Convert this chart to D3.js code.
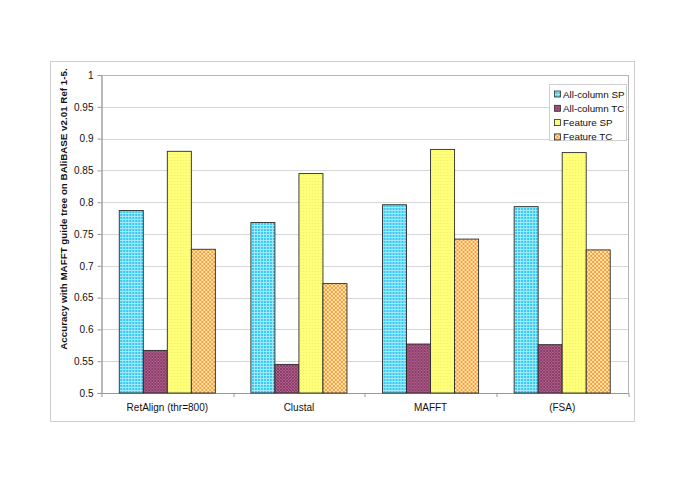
<!DOCTYPE html>
<html>
<head>
<meta charset="utf-8">
<script src="https://cdn.jsdelivr.net/npm/d3@7"></script>
<style>
  body { margin: 0; background: #fff; }
  svg { font-family: "Liberation Sans", Arial, sans-serif; }
</style>
</head>
<body>
<div class="barchart"></div>
<script>
let categories = ["RetAlign (thr=800)", "Clustal", "MAFFT", "(FSA)"];
let seriesNames = ["All-column SP", "All-column TC", "Feature SP", "Feature TC"];
let allColumnSP = [0.787, 0.768, 0.796, 0.793];
let allColumnTC = [0.567, 0.545, 0.577, 0.576];
let featureSP = [0.880, 0.845, 0.883, 0.878];
let featureTC = [0.726, 0.672, 0.742, 0.725];
let yTicks = [0.5, 0.55, 0.6, 0.65, 0.7, 0.75, 0.8, 0.85, 0.9, 0.95, 1];

let series = [allColumnSP, allColumnTC, featureSP, featureTC];
let patternIds = ["pCyan", "pPurple", "pYellow", "pOrange"];

let W = 685, H = 484;
let margin = {top: 75, right: 57, bottom: 91, left: 101.5};
let width = W - margin.left - margin.right,
    height = H - margin.top - margin.bottom;

let root = d3.select(".barchart").append("svg")
    .attr("width", W)
    .attr("height", H);

// patterns for the bar fills
let defs = root.append("defs");

let pc = defs.append("pattern").attr("id", "pCyan")
    .attr("patternUnits", "userSpaceOnUse").attr("width", 3).attr("height", 3);
pc.append("rect").attr("width", 3).attr("height", 3).attr("fill", "#35c8f0");
pc.append("rect").attr("width", 3).attr("height", 1).attr("fill", "#a2eafb");
pc.append("rect").attr("width", 1).attr("height", 3).attr("fill", "#a2eafb");

let pp = defs.append("pattern").attr("id", "pPurple")
    .attr("patternUnits", "userSpaceOnUse").attr("width", 3).attr("height", 3);
pp.append("rect").attr("width", 3).attr("height", 3).attr("fill", "#b2608c");
pp.append("path").attr("d", "M0,3 L3,0 M0,0 L3,3").attr("stroke", "#7f3560").attr("stroke-width", 0.8);

let py = defs.append("pattern").attr("id", "pYellow")
    .attr("patternUnits", "userSpaceOnUse").attr("width", 3).attr("height", 3);
py.append("rect").attr("width", 3).attr("height", 3).attr("fill", "#ffff78");
py.append("rect").attr("x", 1).attr("y", 1).attr("width", 1).attr("height", 1).attr("fill", "#ecec70");

let po = defs.append("pattern").attr("id", "pOrange")
    .attr("patternUnits", "userSpaceOnUse").attr("width", 4).attr("height", 4);
po.append("rect").attr("width", 4).attr("height", 4).attr("fill", "#ffe3b0");
po.append("rect").attr("width", 2).attr("height", 2).attr("fill", "#f6a23c");
po.append("rect").attr("x", 2).attr("y", 2).attr("width", 2).attr("height", 2).attr("fill", "#f6a23c");

// outer frame
root.append("rect")
    .attr("x", 50.5).attr("y", 61.5)
    .attr("width", 584).attr("height", 360)
    .attr("fill", "none")
    .attr("stroke", "#cfcfcf");

let svg = root.append("g")
    .attr("transform", "translate(" + margin.left + "," + margin.top + ")");

let yScale = d3.scaleLinear()
    .range([height, 0])
    .domain([0.5, 1]);

let x0 = d3.scaleBand()
    .range([0, width])
    .domain(categories)
    .paddingInner(0.27)
    .paddingOuter(0.135);

let x1 = d3.scaleBand()
    .range([0, x0.bandwidth()])
    .domain(d3.range(series.length));

// grid lines
svg.append("g")
    .selectAll("line")
    .data(yTicks.slice(1, -1))
    .enter().append("line")
    .attr("x1", 0).attr("x2", width)
    .attr("y1", d => Math.round(yScale(d)) + 0.5)
    .attr("y2", d => Math.round(yScale(d)) + 0.5)
    .attr("stroke", "#d6d6d6");

// plot border
svg.append("rect")
    .attr("x", 0.5).attr("y", 0.5)
    .attr("width", width).attr("height", height)
    .attr("fill", "none")
    .attr("stroke", "#b5b5b5");

// y axis
let yAxis = svg.append("g")
    .call(d3.axisLeft(yScale).tickValues(yTicks).tickSize(4).tickPadding(4)
        .tickFormat(d => d3.format("")(+d.toFixed(2))));
yAxis.select(".domain").attr("stroke", "#999");
yAxis.selectAll(".tick line").attr("stroke", "#999");
yAxis.selectAll("text").attr("font-size", 10).attr("fill", "#111");

// x axis: ticks at group boundaries
let xAxis = svg.append("g")
    .attr("transform", `translate(0, ${height})`);
xAxis.append("line")
    .attr("x1", 0).attr("x2", width)
    .attr("y1", 0.5).attr("y2", 0.5)
    .attr("stroke", "#999");
xAxis.selectAll(".sep")
    .data(d3.range(categories.length + 1))
    .enter().append("line")
    .attr("x1", i => Math.round(i * width / categories.length) + 0.5)
    .attr("x2", i => Math.round(i * width / categories.length) + 0.5)
    .attr("y1", 0).attr("y2", 4)
    .attr("stroke", "#999");
xAxis.selectAll(".lab")
    .data(categories)
    .enter().append("text")
    .attr("x", d => x0(d) + x0.bandwidth() / 2)
    .attr("y", 18)
    .attr("text-anchor", "middle")
    .attr("font-size", 10)
    .attr("fill", "#111")
    .text(d => d);

// bars
let groups = svg.selectAll(".grp")
    .data(categories)
    .enter().append("g")
    .attr("transform", d => "translate(" + x0(d) + ",0)");

groups.selectAll("rect")
    .data((d, i) => series.map((s, j) => ({j: j, val: s[i]})))
    .enter().append("rect")
    .attr("x", d => x1(d.j))
    .attr("y", d => yScale(d.val))
    .attr("width", x1.bandwidth())
    .attr("height", d => height - yScale(d.val))
    .attr("fill", d => "url(#" + patternIds[d.j] + ")")
    .attr("stroke", "#2b2b2b")
    .attr("stroke-width", 0.9);

// y label
root.append("text")
    .attr("transform", "translate(66.5,209) rotate(-90)")
    .attr("text-anchor", "middle")
    .attr("font-size", 9.8)
    .attr("font-weight", "bold")
    .attr("fill", "#111")
    .text("Accuracy with MAFFT guide tree on BAliBASE v2.01 Ref 1-5.");

// legend
let legend = root.append("g").attr("transform", "translate(549.5,84.5)");
legend.append("rect")
    .attr("width", 77).attr("height", 56)
    .attr("fill", "#fff")
    .attr("stroke", "#cfcfcf");
let items = legend.selectAll(".item")
    .data(seriesNames)
    .enter().append("g")
    .attr("transform", (d, i) => "translate(5," + (6.5 + i * 14.3) + ")");
items.append("rect")
    .attr("width", 6).attr("height", 6)
    .attr("fill", (d, i) => "url(#" + patternIds[i] + ")")
    .attr("stroke", "#2b2b2b")
    .attr("stroke-width", 0.8);
items.append("text")
    .attr("x", 8.5).attr("y", 6.5)
    .attr("font-size", 9.8)
    .attr("fill", "#111")
    .text(d => d);
</script>
</body>
</html>
